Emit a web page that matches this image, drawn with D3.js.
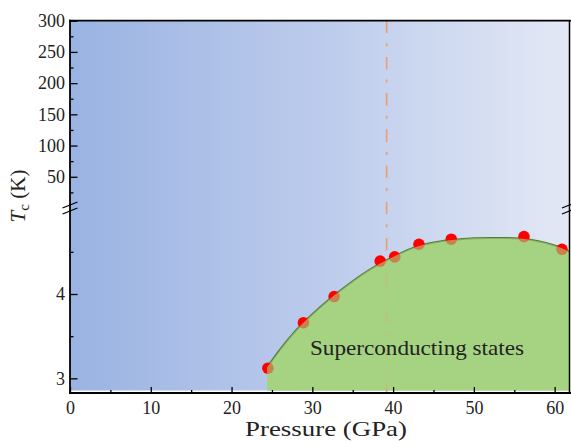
<!DOCTYPE html>
<html>
<head>
<meta charset="utf-8">
<script src="https://cdn.jsdelivr.net/npm/d3@7"></script>
<style>
  body { margin: 0; background: #fff; }
  svg { display: block; }
  text { font-family: "Liberation Serif", "Times New Roman", serif !important; fill: #222; }
</style>
</head>
<body>
<div id="chart"></div>
<script>
// measured points
const pressure = [24.5, 28.9, 32.7, 38.4, 40.2, 43.2, 47.2, 56.2, 60.9];
const tc = [3.12, 3.66, 3.97, 4.39, 4.44, 4.59, 4.65, 4.68, 4.53];

// fitted dome
const fitP = [24.4, 26, 28, 30, 32, 34, 36, 38, 40, 42, 44, 46, 48, 50, 52, 54, 56, 58, 60, 61.9];
const fitTc = [3.13, 3.34, 3.57, 3.76, 3.93, 4.08, 4.22, 4.34, 4.44, 4.53, 4.59, 4.625, 4.645, 4.66, 4.665, 4.665, 4.655, 4.625, 4.575, 4.5];

const xTicks = [0, 10, 20, 30, 40, 50, 60];
const xMinor = [5, 15, 25, 35, 45, 55];
const yTopTicks = [50, 100, 150, 200, 250, 300];
const yTopMinor = [25, 75, 125, 175, 225, 275];
const yLowTicks = [3, 4];
const yLowMinor = [3.5, 4.5];
const boundaryP = 39.2;

var W = 571, H = 446;
var margin = { top: 20.7, right: 1, bottom: 53, left: 70 };
var breakY = 208;
var serif = "'Liberation Serif', 'Times New Roman', serif";

var svg = d3.select("#chart").append("svg").attr("width", W).attr("height", H)
  .attr("font-family", serif);

var x = d3.scaleLinear().domain([0, 61.9]).range([margin.left, W - margin.right]);
var yTop = d3.scaleLinear().domain([0, 300]).range([breakY, margin.top]);
var yLow = d3.scaleLinear().domain([2.826, 5.02]).range([H - margin.bottom, breakY]);
var bottom = H - margin.bottom;

/* ------- BACKGROUND -------*/
var grad = svg.append("defs").append("linearGradient").attr("id", "bg");
grad.append("stop").attr("offset", "0%").attr("stop-color", "#9ab3e2");
grad.append("stop").attr("offset", "50%").attr("stop-color", "#bccbec");
grad.append("stop").attr("offset", "100%").attr("stop-color", "#e3e8f5");

svg.append("rect")
  .attr("x", x(0)).attr("y", margin.top)
  .attr("width", x(61.9) - x(0)).attr("height", bottom - 2.5 - margin.top)
  .attr("fill", "url(#bg)");

/* ------- SUPERCONDUCTING DOME -------*/
var fit = fitP.map((p, i) => ({ p: p, t: fitTc[i] }));

var area = d3.area()
  .x(d => x(d.p))
  .y0(bottom - 2.5)
  .y1(d => yLow(d.t))
  .curve(d3.curveMonotoneX);

var line = d3.line()
  .x(d => x(d.p))
  .y(d => yLow(d.t))
  .curve(d3.curveMonotoneX);

svg.append("path").datum(fit).attr("d", area).attr("fill", "#a5d48a");

// vertical phase boundary
svg.append("line")
  .attr("x1", x(boundaryP)).attr("x2", x(boundaryP))
  .attr("y1", margin.top).attr("y2", bottom)
  .attr("stroke", "#eb9f6c")
  .attr("stroke-width", 1.6)
  .attr("stroke-dasharray", "12.6,10,3,10.6");

svg.append("path").datum(fit).attr("d", line)
  .attr("fill", "none").attr("stroke", "#557f38").attr("stroke-width", 2);

svg.append("g").selectAll("circle")
  .data(pressure.map((p, i) => ({ p: p, t: tc[i] })))
  .enter().append("circle")
  .attr("cx", d => x(d.p))
  .attr("cy", d => yLow(d.t))
  .attr("r", 5.8)
  .attr("fill", "#ff0000");

// translucent overlay of the dome so points look half covered
svg.append("path").datum(fit).attr("d", area).attr("fill", "#a6d27e").attr("opacity", 0.62);

svg.append("text")
  .attr("x", 310).attr("y", 355)
  .attr("font-size", 21)
  .attr("textLength", 214)
  .attr("lengthAdjust", "spacingAndGlyphs")
  .text("Superconducting states");

/* ------- AXES -------*/
function styleAxis(g) {
  g.attr("font-family", serif).attr("font-size", 18);
  g.select(".domain").remove();
  g.selectAll(".tick line").attr("stroke", "#000").attr("stroke-width", 1.3);
  g.selectAll(".tick text").attr("fill", "#222");
}

svg.append("g").attr("transform", "translate(0," + bottom + ")")
  .call(d3.axisBottom(x).tickValues(xTicks).tickSizeInner(-6).tickPadding(8).tickFormat(d3.format("d")))
  .call(styleAxis);
svg.append("g").attr("transform", "translate(0," + bottom + ")")
  .call(d3.axisBottom(x).tickValues(xMinor).tickSizeInner(-3).tickFormat(""))
  .call(styleAxis);

svg.append("g").attr("transform", "translate(" + x(0) + ",0)")
  .call(d3.axisLeft(yTop).tickValues(yTopTicks).tickSizeInner(-7.5).tickPadding(5))
  .call(styleAxis);
svg.append("g").attr("transform", "translate(" + x(0) + ",0)")
  .call(d3.axisLeft(yTop).tickValues(yTopMinor).tickSizeInner(-3.5).tickFormat(""))
  .call(styleAxis);
svg.append("g").attr("transform", "translate(" + x(0) + ",0)")
  .call(d3.axisLeft(yLow).tickValues(yLowTicks).tickSizeInner(-7.5).tickPadding(5).tickFormat(d3.format("d")))
  .call(styleAxis);
svg.append("g").attr("transform", "translate(" + x(0) + ",0)")
  .call(d3.axisLeft(yLow).tickValues(yLowMinor).tickSizeInner(-3.5).tickFormat(""))
  .call(styleAxis);

// frame
var frame = svg.append("g").attr("stroke", "#000").attr("fill", "none");
frame.append("line").attr("x1", x(0)).attr("x2", x(0)).attr("y1", margin.top - 1).attr("y2", bottom + 1).attr("stroke-width", 1.8);
frame.append("line").attr("x1", x(0) - 1).attr("x2", W).attr("y1", margin.top).attr("y2", margin.top).attr("stroke-width", 1.8);
frame.append("line").attr("x1", x(0) - 1).attr("x2", W).attr("y1", bottom).attr("y2", bottom).attr("stroke-width", 2);
frame.append("line").attr("x1", W - 1.5).attr("x2", W - 1.5).attr("y1", margin.top).attr("y2", bottom).attr("stroke-width", 1.5);

// break marks
[x(0), W - 1.5].forEach(function (bx) {
  [-3, 3].forEach(function (off) {
    frame.append("line")
      .attr("x1", bx - 7.5).attr("y1", breakY + off + 3)
      .attr("x2", bx + 7.5).attr("y2", breakY + off - 3)
      .attr("stroke-width", 1.2);
  });
});

/* ------- LABELS -------*/
svg.append("text")
  .attr("x", 245).attr("y", 436)
  .attr("font-size", 22)
  .attr("textLength", 162)
  .attr("lengthAdjust", "spacingAndGlyphs")
  .text("Pressure (GPa)");

var yl = svg.append("text")
  .attr("transform", "translate(25,196) rotate(-90)")
  .attr("text-anchor", "middle")
  .attr("font-size", 21);
yl.append("tspan").attr("font-style", "italic").text("T");
yl.append("tspan").attr("font-size", 15).attr("dy", 4).text("c");
yl.append("tspan").attr("dy", -4).text(" (K)");
</script>
</body>
</html>
